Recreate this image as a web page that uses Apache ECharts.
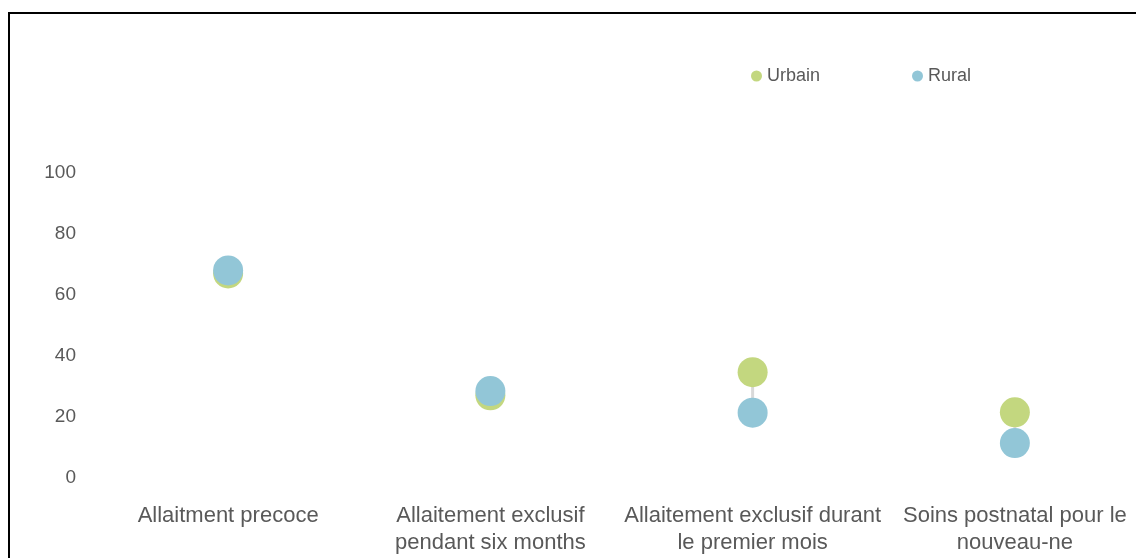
<!DOCTYPE html>
<html>
<head>
<meta charset="utf-8">
<script src="https://cdn.jsdelivr.net/npm/echarts@6/dist/echarts.min.js"></script>
<style>
  html, body { margin: 0; padding: 0; background: #fff; }
  #chart { width: 1136px; height: 558px; }
</style>
</head>
<body>
<div id="chart"></div>
<script>
// Indicator categories (x axis)
const categories = [
  'Allaitment precoce',
  'Allaitement exclusif\npendant six months',
  'Allaitement exclusif durant\nle premier mois',
  'Soins postnatal pour le\nnouveau-ne'
];
// Values per residence type (%)
const urbain = [67, 27, 34.6, 21.4];
const rural = [68, 28.4, 21.3, 11.3];
// Y-axis scale
const yMin = 0, yMax = 100, yStep = 20;

const FONT = '"Liberation Sans", Arial, sans-serif';
const TEXT = '#595959';
const C_URB = '#c3d77f';
const C_RUR = '#92c6d7';

const chart = echarts.init(document.getElementById('chart'));

// connectors between the two values of each category
const pairs = categories.map((c, i) => [i, urbain[i], rural[i]]);

const legendText = { color: TEXT, fontSize: 18, fontFamily: FONT };

chart.setOption({
  animation: false,
  backgroundColor: '#fff',
  textStyle: { fontFamily: FONT },
  legend: [
    { data: ['Urbain'], left: 751, top: 67, padding: 0, icon: 'circle', itemWidth: 11, itemHeight: 11, textStyle: legendText },
    { data: ['Rural'], left: 912, top: 67, padding: 0, icon: 'circle', itemWidth: 11, itemHeight: 11, textStyle: legendText }
  ],
  grid: { left: 97, top: 173, width: 1049, bottom: 80.5, containLabel: false, outerBoundsMode: 'none' },
  xAxis: {
    type: 'category',
    data: categories,
    boundaryGap: true,
    axisLine: { show: false },
    axisTick: { show: false },
    splitLine: { show: false },
    axisLabel: { color: TEXT, fontSize: 22, fontFamily: FONT, margin: 25, lineHeight: 27, interval: 0 }
  },
  yAxis: {
    type: 'value',
    min: yMin, max: yMax, interval: yStep,
    axisLine: { show: false },
    axisTick: { show: false },
    splitLine: { show: false },
    axisLabel: { color: TEXT, fontSize: 19, fontFamily: FONT, margin: 21, padding: [3, 0, 0, 0] }
  },
  series: [
    {
      type: 'custom',
      name: 'connector',
      z: 1,
      silent: true,
      data: pairs,
      encode: { x: 0, y: [1, 2] },
      renderItem: function (params, api) {
        const a = api.coord([api.value(0), api.value(1)]);
        const b = api.coord([api.value(0), api.value(2)]);
        return {
          type: 'line',
          shape: { x1: a[0], y1: a[1], x2: b[0], y2: b[1] },
          style: { stroke: '#d9d9d9', lineWidth: 3 }
        };
      }
    },
    {
      name: 'Urbain', type: 'scatter', z: 2, symbol: 'circle', symbolSize: 30,
      itemStyle: { color: C_URB, opacity: 1 }, data: urbain
    },
    {
      name: 'Rural', type: 'scatter', z: 3, symbol: 'circle', symbolSize: 30,
      itemStyle: { color: C_RUR, opacity: 1 }, data: rural
    }
  ],
  graphic: [
    { type: 'line', shape: { x1: 9, y1: 13, x2: 9, y2: 560 }, style: { stroke: '#000', lineWidth: 2 } },
    { type: 'line', shape: { x1: 8, y1: 13, x2: 1140, y2: 13 }, style: { stroke: '#000', lineWidth: 2 } }
  ]
});
</script>
</body>
</html>
